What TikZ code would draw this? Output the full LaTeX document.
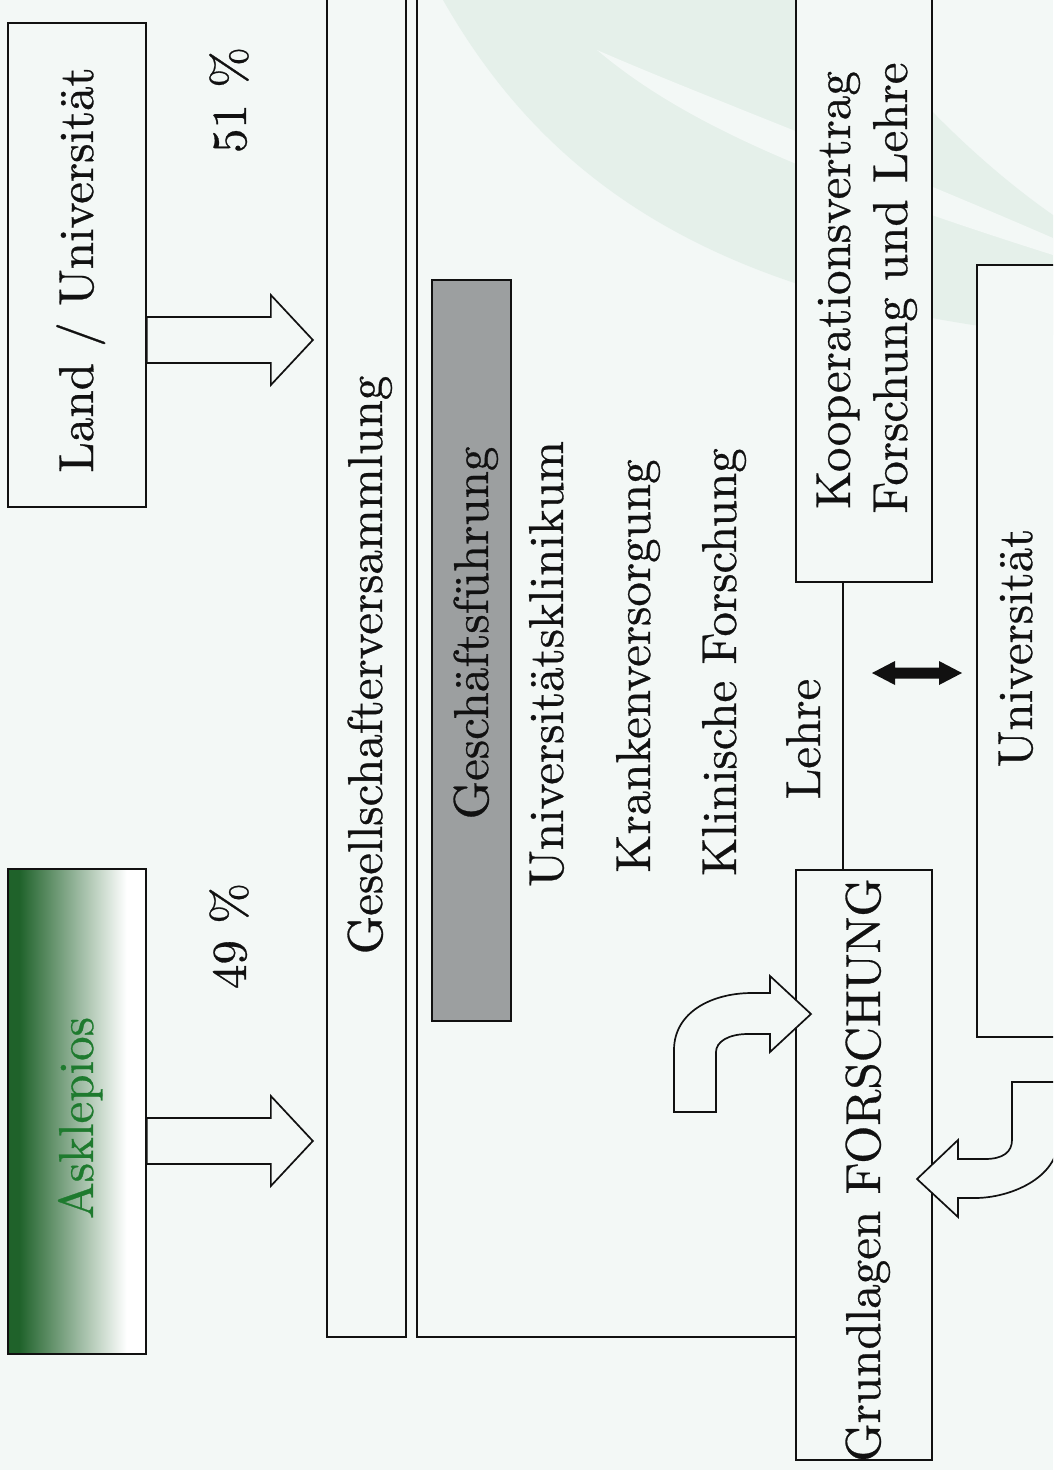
\documentclass[tikz,border=0pt]{standalone}
\usepackage{fontspec}
\setmainfont{lmroman10-regular.otf}[FakeBold=0.6]
\definecolor{bg}{HTML}{F3F8F6}
\definecolor{pale}{HTML}{E5F0EA}
\definecolor{askdark}{HTML}{1F622A}
\definecolor{askgreen}{HTML}{1E7A2E}
\definecolor{gfgray}{HTML}{9C9FA0}
\definecolor{ink}{HTML}{111111}
\pgfdeclarehorizontalshading{asklshade}{100bp}{color(0bp)=(askdark); color(29bp)=(askdark); color(68bp)=(white); color(100bp)=(white)}
\begin{document}
\begin{tikzpicture}[x=1pt,y=-1pt,
  box/.style={draw=ink, line width=1.7pt, inner sep=0pt, fill=bg},
  lbl/.style={rotate=90, anchor=base, inner sep=0pt, text=ink, font=\fontsize{49}{58}\selectfont},
  hollow/.style={draw=ink, line width=1.7pt, fill=bg, line join=miter},
  conn/.style={draw=ink, line width=1.7pt}]
\useasboundingbox (0,0) rectangle (1053,1470);
\clip (0,0) rectangle (1053,1470);
\fill[bg] (0,0) rectangle (1053,1470);
% watermark
\fill[pale] (443,0) .. controls (540,170) and (700,300) .. (1053,335) -- (1053,215) .. controls (960,150) and (880,60) .. (840,0) -- cycle;
\fill[bg] (597,50) .. controls (680,120) and (800,175) .. (1053,255) -- (1053,238) .. controls (850,150) and (700,95) .. (597,50) -- cycle;
% boxes
\node[box, minimum width=138pt, minimum height=484pt] (land) at (77,265) {};
\node[box, shading=asklshade, minimum width=138pt, minimum height=485pt] (askl) at (77,1111.5) {};
\node[box, minimum width=79pt, minimum height=1357pt] (gv) at (366.5,658.5) {};
\coordinate (kb) at (417,1337);
\node[box, minimum width=136pt, minimum height=602pt] (koop) at (864,281) {};
\node[box, minimum width=136pt, minimum height=590pt] (grund) at (864,1165) {};
\draw[conn] (grund.west |- kb) -- (kb) -- (kb |- 0,-20);
\node[box, fill=gfgray, minimum width=79pt, minimum height=741pt] (gf) at (471.5,650.5) {};
\node[box, minimum width=93pt, minimum height=772pt] (uni) at (1023.5,651) {};
% connector
\draw[conn] ([xshift=48pt]koop.south west) -- ([xshift=48pt]grund.north west);
% block arrows
\coordinate (la) at (land.east |- 0,340);
\draw[hollow] (la) ++(0,-23) -- ++(124,0) -- ++(0,-22) -- ++(42,45) -- ++(-42,45) -- ++(0,-22) -- ++(-124,0) -- cycle;
\coordinate (aa) at (askl.east |- 0,1141);
\draw[hollow] (aa) ++(0,-23) -- ++(124,0) -- ++(0,-22) -- ++(42,45) -- ++(-42,45) -- ++(0,-22) -- ++(-124,0) -- cycle;
% curved arrows
\draw[hollow] (674,1112) -- (674,1050) .. controls (674,1012) and (712,993) .. (752,993) -- (770,993) -- (770,976) -- (811,1014) -- (770,1052) -- (770,1034) -- (748,1034) .. controls (728,1034) and (716,1042) .. (716,1052) -- (716,1112) -- cycle;
\draw[hollow] (1012,1082) -- (1058,1082) -- (1058,1140) .. controls (1058,1178) and (1010,1198) .. (975,1198) -- (958,1198) -- (958,1217) -- (917,1179) -- (958,1140) -- (958,1159) -- (985,1159) .. controls (1003,1159) and (1012,1152) .. (1012,1140) -- cycle;
% double arrow
\fill[ink] (872,673) -- (895,661) -- (895,667.5) -- (939,667.5) -- (939,661) -- (962,673) -- (939,685) -- (939,678.5) -- (895,678.5) -- (895,685) -- cycle;
% texts
\node[lbl] (tland) at (93,270) {Land / Universität};
\node[lbl] (t51) at (246,100) {51 \%};
\node[lbl, text=askgreen] (task) at (93,1118) {Asklepios};
\node[lbl] (t49) at (246,936) {49 \%};
\node[lbl] (tgv) at (382,665) {Gesellschafterversammlung};
\node[lbl] (tgf) at (488,633) {Geschäftsführung};
\node[lbl] (tuk) at (563,664) {Universitätsklinikum};
\node[lbl] (tkv) at (650,666) {Krankenversorgung};
\node[lbl] (tkf) at (736,662) {Klinische Forschung};
\node[lbl] (tle) at (820,739) {Lehre};
\node[lbl] (tko1) at (850,290) {Kooperationsvertrag};
\node[lbl] (tko2) at (907,288) {Forschung und Lehre};
\node[lbl] (tgr) at (880,1170) {Grundlagen FORSCHUNG};
\node[lbl] (tun) at (1032,648) {Universität};
\end{tikzpicture}
\end{document}
